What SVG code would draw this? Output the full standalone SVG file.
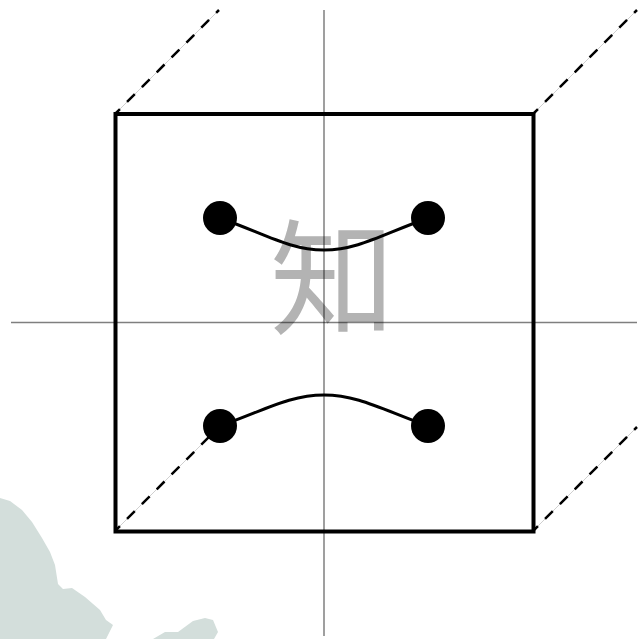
<svg xmlns="http://www.w3.org/2000/svg" width="639" height="639" viewBox="0 0 639 639">
<style>
.bg{fill:#d3dedb}
.axis{stroke:#000;stroke-opacity:.5;stroke-width:1.500;fill:none}
.guide{stroke:#cfcfcf;stroke-width:1;fill:none}
.dash{stroke:#000;stroke-width:2.500;stroke-dasharray:11 10;stroke-dashoffset:4;fill:none}
.curve{stroke:#000;stroke-width:3;fill:none}
.dot{fill:#000}
.glyph{font-family:"Noto Sans CJK SC","Noto Sans CJK JP",sans-serif;font-size:125px;font-weight:400;fill:#b3b3b3;text-anchor:middle}
</style>
<rect width="639" height="639" fill="#fff"/>
<path class="bg" d="M0 498L10 501 22 510 32 522 42 538 50 552 55 565 58 584 63 589 72 588 85 597 100 610 106 620 113 625 106 639H0Z"/>
<path class="bg" d="M153 639L165 632 178 632 193 621 205 618 213 620 218 632 214 639Z"/>
<g id="glyph"><text class="glyph" x="332.500" y="325">知</text></g>
<g id="axes">
<path class="axis" d="M324 10V636"/>
<path class="axis" d="M11 322.500H637"/>
</g>
<g id="connectors">
<path class="guide" d="M115 114L219 10M533 114L637 10M115 531L219 427M533 531L637 427"/>
<path class="dash" d="M115 114L219 10M533 114L637 10M115 531L219 427M533 531L637 427"/>
<path class="curve" d="M220 218C265 234 290 250 324 250S383 234 428 218"/>
<path class="curve" d="M220 426C265 410 290 395 324 395S383 410 428 426"/>
</g>
<g id="box"><rect x="115.500" y="114" width="418" height="417.500" fill="none" stroke="#000" stroke-width="4"/></g>
<g id="dot-tl"><circle class="dot" cx="220" cy="218" r="17"/></g>
<g id="dot-tr"><circle class="dot" cx="428" cy="218" r="17"/></g>
<g id="dot-bl"><circle class="dot" cx="220" cy="426" r="17"/></g>
<g id="dot-br"><circle class="dot" cx="428" cy="426" r="17"/></g>
</svg>
